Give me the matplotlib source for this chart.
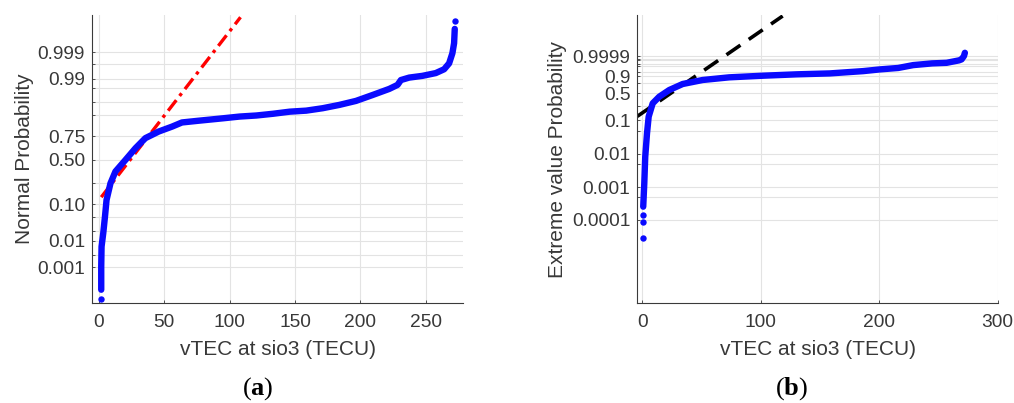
import numpy as np
import matplotlib
matplotlib.use("Agg")
import matplotlib.pyplot as plt
from statistics import NormalDist

# (a) sorted vTEC against standard normal quantile
norm_x = [2.05, 2.05, 2.3, 3.6, 4.9, 6.1, 9.1, 12.9, 20.5, 28.2, 35.8, 46.0, 56.1, 63.7,
          76.4, 95.1, 107.8, 120.5, 133.2, 145.9, 158.6, 171.2, 183.9, 196.6, 209.3,
          222.0, 228.3, 230.9, 237.2, 247.3, 257.5, 263.9, 267.7, 270.2, 271.5, 272.0]
norm_q = [-3.74, -3.07, -2.50, -2.11, -1.64, -1.16, -0.68, -0.34, -0.01, 0.33, 0.62, 0.81,
          0.95, 1.07, 1.12, 1.19, 1.24, 1.27, 1.32, 1.38, 1.41, 1.48, 1.575, 1.69, 1.86,
          2.035, 2.15, 2.29, 2.36, 2.41, 2.49, 2.60, 2.77, 3.06, 3.35, 3.76]
norm_dot_x = [2.05, 272.0]
norm_dot_q = [-4.00, 3.99]
norm_fit_x = [2.05, 108.4]
norm_fit_q = [-1.078, 4.096]

# (b) sorted vTEC against extreme value quantile log(-log(1-p))
ev_x = [0.8, 1.7, 2.5, 4.0, 5.4, 8.8, 14.3, 22.8, 34.1, 51.0, 73.4, 102.1, 130.3, 158.4,
        186.5, 200.6, 216.0, 228.7, 244.7, 256.9, 267.3, 269.5, 271.5, 272.3]
ev_q = [-8.28, -6.65, -4.79, -3.15, -1.99, -1.06, -0.60, -0.13, 0.29, 0.57, 0.755, 0.87,
        0.965, 1.03, 1.19, 1.31, 1.41, 1.61, 1.73, 1.77, 1.94, 2.01, 2.24, 2.47]
ev_dot_x = [0.3, 0.3, 0.5]
ev_dot_q = [-10.49, -9.33, -8.86]
ev_fit_x = [-4.2, 118.5]
ev_fit_q = [-1.97, 5.04]

norm_ticks = [0.001, 0.003, 0.01, 0.02, 0.05, 0.10, 0.25, 0.50, 0.75, 0.90, 0.95, 0.98,
              0.99, 0.997, 0.999]
norm_labels = ["0.001", "", "0.01", "", "", "0.10", "", "0.50", "0.75", "", "", "",
               "0.99", "", "0.999"]
ev_ticks = [0.0001, 0.0005, 0.001, 0.005, 0.01, 0.05, 0.1, 0.25, 0.5, 0.75, 0.9, 0.95,
            0.99, 0.995, 0.999, 0.9995, 0.9999]
ev_labels = ["0.0001", "", "0.001", "", "0.01", "", "0.1", "", "0.5", "", "0.9", "",
             "", "", "", "", "0.9999"]

plt.rcParams["font.family"] = ["Liberation Sans", "DejaVu Sans"]
plt.rcParams["mathtext.fontset"] = "custom"
plt.rcParams["mathtext.rm"] = "Liberation Serif"
plt.rcParams["mathtext.bf"] = "Liberation Serif:bold"

BLUE = "#0a0aff"
GRID = "#e3e3e3"
AX = "#3a3a3a"
TXT = "#383838"


def style(ax):
    for s in ["top", "right"]:
        ax.spines[s].set_visible(False)
    for s in ["left", "bottom"]:
        ax.spines[s].set_color(AX)
        ax.spines[s].set_linewidth(0.8)
    ax.grid(True, color=GRID, linewidth=0.8)
    ax.set_axisbelow(True)
    ax.tick_params(direction="in", length=2.5, width=0.6, colors=AX,
                   labelsize=13.8, labelcolor=TXT)
    ax.tick_params(axis="y", pad=5)
    ax.tick_params(axis="x", pad=8)


fig = plt.figure(figsize=(10.14, 4.03), dpi=100)
ax1 = fig.add_axes([92 / 1014, 1 - 303.3 / 403, 371 / 1014, 288.3 / 403])
ax2 = fig.add_axes([637.3 / 1014, 1 - 303.3 / 403, 360.4 / 1014, 288.3 / 403])

# normal probability plot
nd = NormalDist()
style(ax1)
ax1.plot(norm_fit_x, norm_fit_q, color="red", lw=2.4, dashes=(4, 1.6, 1, 1.6), zorder=2)
ax1.plot(norm_x, norm_q, color=BLUE, lw=4.6, solid_capstyle="round",
         solid_joinstyle="round", zorder=3)
ax1.plot(norm_dot_x, norm_dot_q, "o", color=BLUE, ms=4.6, mew=0, zorder=3)
ax1.set_xlim(-5.0, 278.3)
ax1.set_ylim(-4.13, 4.16)
ax1.set_xticks([0, 50, 100, 150, 200, 250])
ax1.set_yticks([nd.inv_cdf(p) for p in norm_ticks])
ax1.set_yticklabels(norm_labels)
ax1.set_xlabel("vTEC at sio3 (TECU)", fontsize=15, color=TXT)
ax1.set_ylabel("Normal Probability", fontsize=15, color=TXT)
ax1.xaxis.set_label_coords(0.5, -0.128)
ax1.yaxis.set_label_coords(-0.157, 0.5)

# extreme value probability plot
style(ax2)
ax2.plot(ev_fit_x, ev_fit_q, color="black", lw=2.6, dashes=(4.7, 2.8), zorder=2)
ax2.plot(ev_x, ev_q, color=BLUE, lw=4.6, solid_capstyle="round",
         solid_joinstyle="round", zorder=3)
ax2.plot(ev_dot_x, ev_dot_q, "o", color=BLUE, ms=4.6, mew=0, zorder=3)
ax2.set_xlim(-4.2, 300)
ax2.set_ylim(-15.03, 5.11)
ax2.set_xticks([0, 100, 200, 300])
ax2.set_yticks([np.log(-np.log(1 - p)) for p in ev_ticks])
ax2.set_yticklabels(ev_labels)
ax2.set_xlabel("vTEC at sio3 (TECU)", fontsize=15, color=TXT)
ax2.set_ylabel("Extreme value Probability", fontsize=15, color=TXT)
ax2.xaxis.set_label_coords(0.5, -0.128)
ax2.yaxis.set_label_coords(-0.195, 0.5)

fig.text(258 / 1014, 1 - 389 / 403, r"$(\mathbf{a})$", ha="center", va="center", fontsize=19)
fig.text(792 / 1014, 1 - 389 / 403, r"$(\mathbf{b})$", ha="center", va="center", fontsize=19)

fig.savefig("out.png", dpi=100)
